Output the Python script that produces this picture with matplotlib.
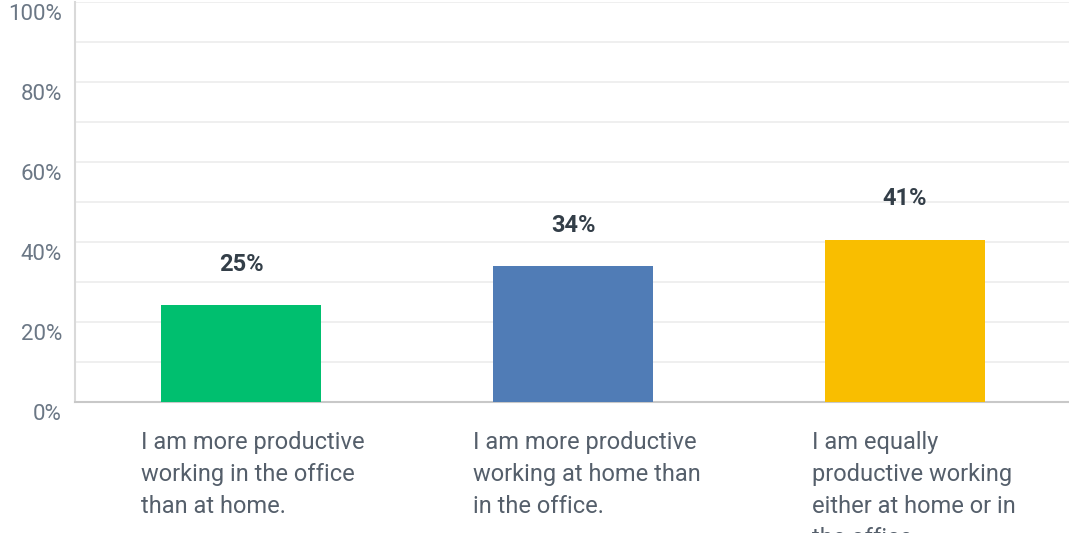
import matplotlib
matplotlib.use("Agg")
import matplotlib.pyplot as plt
from matplotlib import transforms

categories = [
    "I am more productive\nworking in the office\nthan at home.",
    "I am more productive\nworking at home than\nin the office.",
    "I am equally\nproductive working\neither at home or in\nthe office.",
]
values = [24.2, 34.0, 40.6]
value_labels = ["25%", "34%", "41%"]
bar_colors = ["#00bf6f", "#507cb6", "#f9be00"]
y_ticks = [0, 20, 40, 60, 80, 100]
y_tick_labels = ["0%", "20%", "40%", "60%", "80%", "100%"]

plt.rcParams['font.family'] = ['Roboto', 'DejaVu Sans']

fig = plt.figure(figsize=(10.69, 5.33), dpi=100)
ax = fig.add_axes([75 / 1069, 1 - 402 / 533, 996 / 1069, 400 / 533])

x = range(len(values))
ax.bar(x, values, width=0.482, color=bar_colors, zorder=3)

for i, (v, lab) in enumerate(zip(values, value_labels)):
    ax.annotate(lab, (i, v), xytext=(0, 21), textcoords="offset points",
                ha="center", va="bottom", fontsize=17, fontweight="bold",
                color="#333e48")

# категории — текст слева, под осью (последняя строка обрезана, как в оригинале)
for i, cat in enumerate(categories):
    ax.text(i - 0.3 + (0.02 if i == 2 else 0), -0.073, cat, transform=ax.get_xaxis_transform(),
            ha="left", va="top", fontsize=17, color="#555f6b",
            linespacing=1.5, clip_on=False)

ax.set_xlim(-0.5, 2.5)
ax.set_ylim(0, 100)
ax.set_xticks([])
ax.set_yticks(range(0, 101, 10), minor=False)
ax.set_yticklabels([""] * 11)
ax.grid(axis="y", color="#ececec", linewidth=1.2, zorder=0)
ax.tick_params(axis="y", length=0)

offset = transforms.ScaledTranslation(0, -12 / 100, fig.dpi_scale_trans)
for t, lab in zip(y_ticks, y_tick_labels):
    ax.text(-0.013, t, lab, transform=transforms.blended_transform_factory(ax.transAxes, ax.transData) + offset,
            ha="right", va="center", fontsize=16, color="#6b7785")

for side in ["top", "right"]:
    ax.spines[side].set_visible(False)
ax.spines["left"].set_color("#d9d9d9")
ax.spines["left"].set_linewidth(1.5)
ax.spines["bottom"].set_color("#c8c8c8")
ax.spines["bottom"].set_linewidth(1.5)

fig.savefig("out.png", dpi=100)
